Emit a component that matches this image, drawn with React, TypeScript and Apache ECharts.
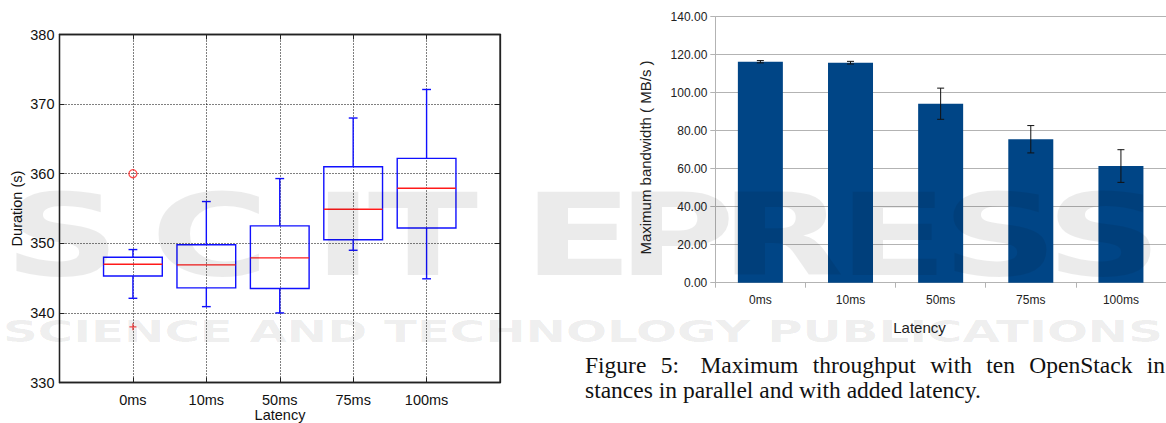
import React, { useEffect, useRef } from "react";
import * as echarts from "echarts";

// ---- data ----
const latencies = ["0ms", "10ms", "50ms", "75ms", "100ms"];
// duration box plot: [min, q1, median, q3, max]
const durMin = [342.1, 340.9, 340.0, 349.0, 344.9];
const durQ1 = [345.3, 343.6, 343.5, 350.5, 352.2];
const durMedian = [347.0, 346.9, 347.9, 354.9, 357.9];
const durQ3 = [348.0, 349.8, 352.5, 361.0, 362.2];
const durMax = [349.1, 356.0, 359.3, 368.0, 372.1];
const outlierCircle = [[1, 360]];
const outlierPlus = [[1, 338]];
const durTicks = { min: 330, max: 380, interval: 10 };

// bandwidth bars with error bars
const bwMean = [116.3, 115.8, 94.2, 75.5, 61.4];
const bwErr = [0.6, 0.7, 8.2, 7.2, 8.6];
const bwTicks = { min: 0, max: 140, interval: 20 };

const captionWords1 = ["Figure", "5:", "Maximum", "throughput", "with", "ten", "OpenStack", "in"];
const captionLine2 = "stances in parallel and with added latency.";

// watermark
const wmLetters = ["S", "C", "I", "T", "E", "P", "R", "E", "S", "S"];
const wmCenters = [62, 210, 343, 423, 578, 676, 782, 893, 1000, 1104];
const wmSub = "SCIENCE AND TECHNOLOGY PUBLICATIONS";

export default function App() {
  const ref = useRef<HTMLDivElement>(null);

  useEffect(() => {
    if (!ref.current) return;
    const chart = echarts.init(ref.current, null, { renderer: "svg" });

    const boxData = latencies.map((_, i) => [
      i + 1,
      durMin[i],
      durQ1[i],
      durMedian[i],
      durQ3[i],
      durMax[i],
    ]);
    const errData = latencies.map((_, i) => [i, bwMean[i] - bwErr[i], bwMean[i] + bwErr[i]]);

    const sans = "Liberation Sans, Arial, sans-serif";
    const serif = "Liberation Serif, Times New Roman, serif";
    const wmFont = "DejaVu Sans, sans-serif";
    const dotted = { color: "#000", width: 1, type: [1, 2] as any };

    // measure text for the justified first caption line
    const cv = document.createElement("canvas").getContext("2d")!;
    const capSize = 23.5;
    cv.font = `${capSize}px "Liberation Serif"`;
    const widths = captionWords1.map((w) => cv.measureText(w).width);
    const lineStart = 585;
    const lineEnd = 1165;
    const totalW = widths.reduce((a, b) => a + b, 0);
    const gapUnits = captionWords1.length - 1 + 0.5; // extra space after colon
    const unit = (lineEnd - lineStart - totalW) / gapUnits;
    const wordGraphics: any[] = [];
    let cx = lineStart;
    captionWords1.forEach((w, i) => {
      wordGraphics.push({
        type: "text",
        x: cx,
        y: 365,
        style: { text: w, fontFamily: serif, fontSize: capSize, fill: "#111", align: "left", verticalAlign: "middle" },
      });
      cx += widths[i] + unit * (i === 1 ? 1.5 : 1);
    });

    cv.font = `bold 31px "DejaVu Sans"`;
    const subW = cv.measureText(wmSub).width;
    const subScale = 1160 / subW;

    const wmGraphics: any[] = wmLetters.map((l, i) => ({
      type: "text",
      x: wmCenters[i],
      y: 236,
      scaleX: 1.42,
      z: 100,
      silent: true,
      style: {
        text: l,
        fontFamily: wmFont,
        fontWeight: "bold",
        fontSize: 114,
        fill: "#000",
        opacity: 0.08,
        align: "center",
        verticalAlign: "middle",
      },
    }));
    wmGraphics.push({
      type: "text",
      x: 583,
      y: 331,
      scaleX: subScale,
      z: 100,
      silent: true,
      style: {
        text: wmSub,
        fontFamily: wmFont,
        fontWeight: "bold",
        fontSize: 31,
        fill: "#000",
        opacity: 0.08,
        align: "center",
        verticalAlign: "middle",
      },
    });

    const option: any = {
      animation: false,
      grid: [
        { left: 59.5, top: 34.5, width: 440.5, height: 348, show: true, borderColor: "#222", borderWidth: 1.3, backgroundColor: "transparent" },
        { left: 715.3, top: 16.7, width: 453.5, height: 266 },
      ],
      xAxis: [
        {
          type: "value",
          gridIndex: 0,
          min: 0,
          max: 6,
          interval: 1,
          axisLine: { show: true, onZero: false, lineStyle: { color: "#222", width: 1.3 } },
          axisTick: { show: true, inside: true, length: 5, lineStyle: { color: "#222" } },
          axisLabel: {
            fontFamily: sans,
            fontSize: 14.5,
            color: "#111",
            margin: 10,
            formatter: (v: number) => latencies[v - 1] || "",
          },
          splitLine: { show: true, lineStyle: dotted },
        },
        {
          type: "value",
          gridIndex: 0,
          position: "top",
          min: 0,
          max: 6,
          interval: 1,
          axisLine: { show: true, onZero: false, lineStyle: { color: "#222", width: 1.3 } },
          axisTick: { show: true, inside: true, length: 5, lineStyle: { color: "#222" } },
          axisLabel: { show: false },
          splitLine: { show: false },
        },
        {
          type: "category",
          gridIndex: 1,
          data: latencies,
          axisLine: { show: true, lineStyle: { color: "#b3b3b3" } },
          axisTick: { show: true, length: 5, alignWithLabel: false, lineStyle: { color: "#b3b3b3" } },
          axisLabel: { fontFamily: sans, fontSize: 12, color: "#222", margin: 11 },
          splitLine: { show: false },
        },
      ],
      yAxis: [
        {
          type: "value",
          gridIndex: 0,
          min: durTicks.min,
          max: durTicks.max,
          interval: durTicks.interval,
          axisLine: { show: true, onZero: false, lineStyle: { color: "#222", width: 1.3 } },
          axisTick: { show: true, inside: true, length: 5, lineStyle: { color: "#222" } },
          axisLabel: { fontFamily: sans, fontSize: 14.5, color: "#111", margin: 5 },
          splitLine: { show: true, lineStyle: dotted },
        },
        {
          type: "value",
          gridIndex: 0,
          position: "right",
          min: durTicks.min,
          max: durTicks.max,
          interval: durTicks.interval,
          axisLine: { show: true, onZero: false, lineStyle: { color: "#222", width: 1.3 } },
          axisTick: { show: true, inside: true, length: 5, lineStyle: { color: "#222" } },
          axisLabel: { show: false },
          splitLine: { show: false },
        },
        {
          type: "value",
          gridIndex: 1,
          min: bwTicks.min,
          max: bwTicks.max,
          interval: bwTicks.interval,
          axisLine: { show: true, lineStyle: { color: "#b3b3b3" } },
          axisTick: { show: true, length: 5, lineStyle: { color: "#b3b3b3" } },
          axisLabel: {
            fontFamily: sans,
            fontSize: 12,
            color: "#222",
            margin: 8,
            formatter: (v: number) => v.toFixed(2),
          },
          splitLine: { show: true, lineStyle: { color: "#b3b3b3", width: 1 } },
        },
      ],
      series: [
        {
          type: "custom",
          xAxisIndex: 0,
          yAxisIndex: 0,
          data: boxData,
          z: 5,
          renderItem: (params: any, api: any) => {
            const x = api.value(0);
            const pMin = api.coord([x, api.value(1)]);
            const pQ1 = api.coord([x, api.value(2)]);
            const pMed = api.coord([x, api.value(3)]);
            const pQ3 = api.coord([x, api.value(4)]);
            const pMax = api.coord([x, api.value(5)]);
            const halfW = api.size([0.8, 0])[0] / 2;
            const capW = api.size([0.12, 0])[0] / 2;
            const c = pMin[0];
            const blue = { stroke: "#1010ff", lineWidth: 1.4, fill: "none" };
            return {
              type: "group",
              children: [
                { type: "line", shape: { x1: c, y1: pMax[1], x2: c, y2: pQ3[1] }, style: blue },
                { type: "line", shape: { x1: c, y1: pQ1[1], x2: c, y2: pMin[1] }, style: blue },
                { type: "line", shape: { x1: c - capW, y1: pMax[1], x2: c + capW, y2: pMax[1] }, style: blue },
                { type: "line", shape: { x1: c - capW, y1: pMin[1], x2: c + capW, y2: pMin[1] }, style: blue },
                {
                  type: "rect",
                  shape: { x: c - halfW, y: pQ3[1], width: halfW * 2, height: pQ1[1] - pQ3[1] },
                  style: blue,
                },
                {
                  type: "line",
                  shape: { x1: c - halfW, y1: pMed[1], x2: c + halfW, y2: pMed[1] },
                  style: { stroke: "#ff1a1a", lineWidth: 1.4 },
                },
              ],
            };
          },
        },
        {
          type: "scatter",
          xAxisIndex: 0,
          yAxisIndex: 0,
          data: outlierCircle,
          symbol: "circle",
          symbolSize: 8,
          z: 6,
          itemStyle: { color: "none", borderColor: "#ff2020", borderWidth: 1.3 },
        },
        {
          type: "scatter",
          xAxisIndex: 0,
          yAxisIndex: 0,
          data: outlierPlus,
          symbol: "path://M0,-1L0,1M-1,0L1,0",
          symbolSize: 7,
          z: 6,
          itemStyle: { color: "none", borderColor: "#ff2020", borderWidth: 1.3 },
        },
        {
          type: "bar",
          xAxisIndex: 2,
          yAxisIndex: 2,
          data: bwMean,
          barWidth: 45,
          itemStyle: { color: "#004586" },
        },
        {
          type: "custom",
          xAxisIndex: 2,
          yAxisIndex: 2,
          data: errData,
          z: 5,
          renderItem: (params: any, api: any) => {
            const i = api.value(0);
            const lo = api.coord([i, api.value(1)]);
            const hi = api.coord([i, api.value(2)]);
            const cw = 3.5;
            const st = { stroke: "#111", lineWidth: 1 };
            return {
              type: "group",
              children: [
                { type: "line", shape: { x1: lo[0], y1: lo[1], x2: hi[0], y2: hi[1] }, style: st },
                { type: "line", shape: { x1: lo[0] - cw, y1: lo[1], x2: lo[0] + cw, y2: lo[1] }, style: st },
                { type: "line", shape: { x1: hi[0] - cw, y1: hi[1], x2: hi[0] + cw, y2: hi[1] }, style: st },
              ],
            };
          },
        },
      ],
      graphic: [
        {
          type: "text",
          x: 17,
          y: 208.5,
          rotation: Math.PI / 2,
          style: { text: "Duration (s)", fontFamily: sans, fontSize: 14.5, fill: "#111", align: "center", verticalAlign: "middle" },
        },
        {
          type: "text",
          x: 280,
          y: 415,
          style: { text: "Latency", fontFamily: sans, fontSize: 14.5, fill: "#111", align: "center", verticalAlign: "middle" },
        },
        {
          type: "text",
          x: 645,
          y: 157.5,
          rotation: Math.PI / 2,
          style: { text: "Maximum bandwidth ( MB/s )", fontFamily: sans, fontSize: 15, fill: "#222", align: "center", verticalAlign: "middle" },
        },
        {
          type: "text",
          x: 919.5,
          y: 327,
          style: { text: "Latency", fontFamily: sans, fontSize: 15, fill: "#222", align: "center", verticalAlign: "middle" },
        },
        ...wordGraphics,
        {
          type: "text",
          x: lineStart,
          y: 389.5,
          style: { text: captionLine2, fontFamily: serif, fontSize: capSize, fill: "#111", align: "left", verticalAlign: "middle" },
        },
        ...wmGraphics,
      ],
    };

    chart.setOption(option);
    return () => chart.dispose();
  }, []);

  return (
    <div
      ref={ref}
      style={{ position: "absolute", left: 0, top: 0, width: 1166, height: 423, background: "#fff" }}
    />
  );
}
